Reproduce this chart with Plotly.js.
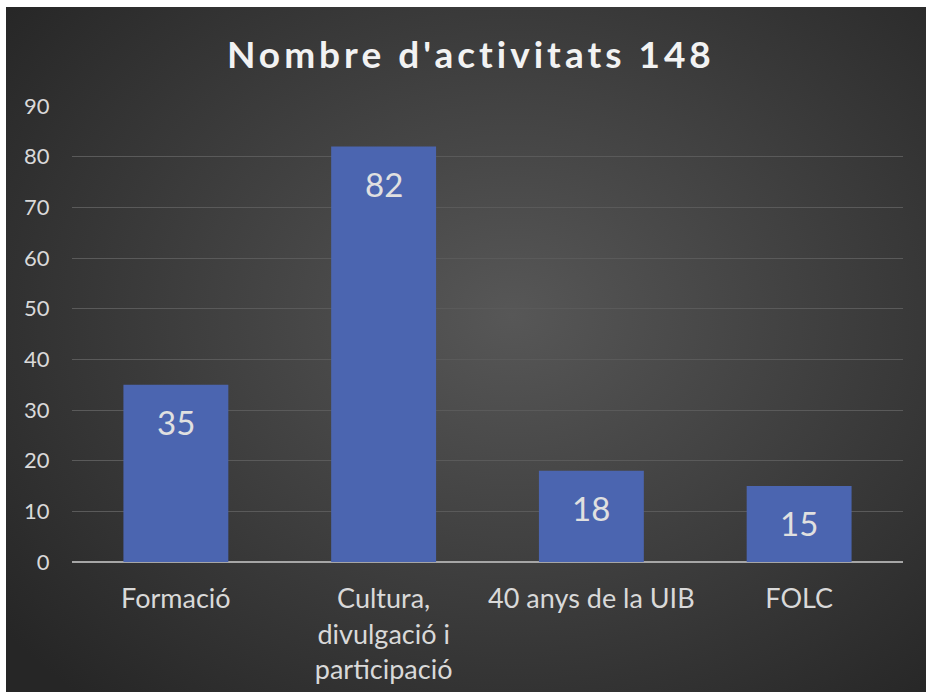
<!DOCTYPE html>
<html>
<head>
<meta charset="utf-8">
<script src="https://cdn.plot.ly/plotly-3.0.1.min.js"></script>
<style>
  html, body { margin:0; padding:0; background:#ffffff; }
  #bg { position:absolute; left:6px; top:7px; width:920px; height:685px;
        background: radial-gradient(ellipse 70% 75% at 55% 45%, #575757 0%, #3c3c3c 55%, #262626 100%); }
  #chart { position:absolute; left:0; top:0; width:926px; height:693px; }
  .gtitle { letter-spacing: 4px; }
</style>
</head>
<body>
<div id="bg"></div>
<div id="chart"></div>
<script>
const categories = ["Formació", "Cultura,<br>divulgació i<br>participació", "40 anys de la UIB", "FOLC"];
const values = [35, 82, 18, 15];
const titleText = "Nombre d'activitats 148";
const yTicks = [0, 10, 20, 30, 40, 50, 60, 70, 80, 90];

const trace = {
  type: 'bar',
  x: categories,
  y: values,
  marker: { color: '#4b65b0' },
  width: 0.505,
  hoverinfo: 'none'
};

const annotations = categories.map((c, i) => ({
  x: c, y: values[i], xref: 'x', yref: 'y',
  text: String(values[i]), showarrow: false,
  yanchor: 'middle', yshift: -37,
  font: { family: 'Lato, sans-serif', size: 33, color: '#e0e0e0' }
}));

const layout = {
  width: 926, height: 693,
  paper_bgcolor: 'rgba(0,0,0,0)',
  plot_bgcolor: 'rgba(0,0,0,0)',
  margin: { l: 72, r: 23, t: 106, b: 131 },
  title: {
    text: '<b>' + titleText + '</b>',
    x: 0.48, xref: 'paper', xanchor: 'center',
    y: 1 - 55/693, yref: 'container', yanchor: 'middle',
    font: { family: 'Lato, sans-serif', size: 37, color: '#f2f2f2' }
  },
  showlegend: false,
  xaxis: {
    tickfont: { family: 'Lato, sans-serif', size: 27, color: '#d9d9d9' },
    ticks: 'outside', ticklen: 13, tickcolor: 'rgba(0,0,0,0)',
    showgrid: false, zeroline: false, showline: false,
    fixedrange: true
  },
  yaxis: {
    range: [0, 90],
    tickvals: yTicks,
    tickfont: { family: 'Lato, sans-serif', size: 22, color: '#d9d9d9' },
    ticks: 'outside', ticklen: 17, tickcolor: 'rgba(0,0,0,0)',
    showgrid: true, gridcolor: '#5a5a5a', gridwidth: 1,
    zeroline: true, zerolinecolor: '#a6a6a6', zerolinewidth: 2,
    showline: false, fixedrange: true
  },
  annotations: annotations
};

Plotly.newPlot('chart', [trace], layout, { displayModeBar: false, staticPlot: true });
</script>
</body>
</html>
